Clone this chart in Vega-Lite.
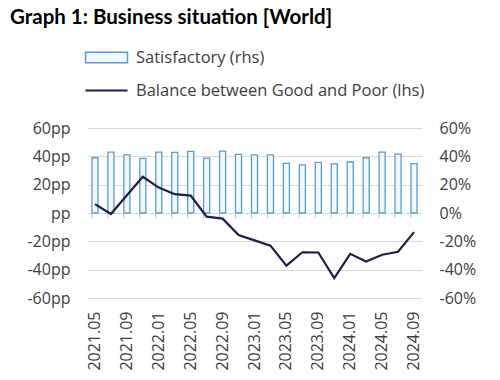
{
  "$schema": "https://vega.github.io/schema/vega-lite/v6.json",
  "autosize": {"type": "none"},
  "width": 335,
  "height": 170,
  "padding": {"left": 87, "top": 128, "right": 78, "bottom": 82},
  "background": "white",
  "title": {"text": "Graph 1: Business situation [World]", "anchor": "start", "frame": "group", "dx": -77, "offset": 18, "font": "Lato", "fontSize": 20.5, "fontWeight": "bold", "color": "#000000"},
  "config": {
    "view": {"stroke": null},
    "axis": {"labelFont": "Open Sans", "labelFontSize": 16, "labelColor": "#404040", "domain": false, "ticks": false, "gridColor": "#D9D9D9", "gridWidth": 1, "title": null},
    "legend": {"labelFont": "Open Sans", "labelFontSize": 16.5, "labelColor": "#404040", "labelLimit": 400}
  },
  "data": {"values": [
    {"d": "2021.05", "sat": 39, "bal": 6.3},
    {"d": "2021.07", "sat": 43, "bal": -0.7},
    {"d": "2021.09", "sat": 41, "bal": 12.5},
    {"d": "2021.11", "sat": 38.6, "bal": 25.6},
    {"d": "2022.01", "sat": 43, "bal": 17.9},
    {"d": "2022.03", "sat": 42.8, "bal": 13.3},
    {"d": "2022.05", "sat": 43.5, "bal": 12.3},
    {"d": "2022.07", "sat": 38.8, "bal": -2.6},
    {"d": "2022.09", "sat": 43.7, "bal": -4},
    {"d": "2022.11", "sat": 41.4, "bal": -15.6},
    {"d": "2023.01", "sat": 41, "bal": -19.3},
    {"d": "2023.03", "sat": 41, "bal": -23},
    {"d": "2023.05", "sat": 35, "bal": -37.2},
    {"d": "2023.07", "sat": 34, "bal": -27.7},
    {"d": "2023.09", "sat": 35.8, "bal": -27.9},
    {"d": "2023.11", "sat": 34.7, "bal": -46},
    {"d": "2024.01", "sat": 36, "bal": -28.8},
    {"d": "2024.03", "sat": 39, "bal": -34.2},
    {"d": "2024.05", "sat": 43, "bal": -29.5},
    {"d": "2024.07", "sat": 41.6, "bal": -27.4},
    {"d": "2024.09", "sat": 34.9, "bal": -13.5}
  ]},
  "encoding": {
    "x": {"field": "d", "type": "ordinal", "sort": null,
      "scale": {"paddingInner": 0.62, "paddingOuter": 0.31},
      "axis": {"values": ["2021.05", "2021.09", "2022.01", "2022.05", "2022.09", "2023.01", "2023.05", "2023.09", "2024.01", "2024.05", "2024.09"], "labelAngle": -90, "labelPadding": 13}}
  },
  "layer": [
    {
      "mark": {"type": "bar", "fill": "#F3F7FC", "strokeWidth": 1.3},
      "encoding": {
        "y": {"field": "sat", "type": "quantitative", "scale": {"domain": [-60, 60]},
          "axis": {"orient": "right", "grid": false, "values": [-60, -40, -20, 0, 20, 40, 60], "labelExpr": "datum.value + '%'", "labelPadding": 17}},
        "stroke": {"datum": "Satisfactory (rhs)", "type": "nominal",
          "scale": {"range": ["#5B9BD5"]},
          "legend": {"title": null, "orient": "none", "legendX": 8, "legendY": -82, "symbolSize": 441, "labelOffset": 18, "padding": 0,
            "symbolType": "M-2,-0.5H2V0.5H-2Z", "symbolFillColor": "#F3F7FC", "symbolStrokeColor": "#5B9BD5", "symbolStrokeWidth": 1.5, "symbolOpacity": 1}}
      }
    },
    {
      "mark": {"type": "rule", "color": "#BFBFBF", "strokeWidth": 1},
      "encoding": {
        "x": {"field": "d", "type": "ordinal", "sort": null, "bandPosition": 0},
        "y": {"datum": 0, "type": "quantitative", "scale": {"domain": [-60, 60]}, "axis": null},
        "y2": {"datum": -3.5}
      }
    },
    {
      "mark": {"type": "line", "strokeWidth": 2.2},
      "encoding": {
        "y": {"field": "bal", "type": "quantitative", "scale": {"domain": [-60, 60]},
          "axis": {"orient": "left", "grid": true, "values": [-60, -40, -20, 0, 20, 40, 60], "labelExpr": "datum.value == 0 ? 'pp' : datum.value + 'pp'", "labelPadding": 17}},
        "stroke": {"datum": "Balance between Good and Poor (lhs)", "type": "nominal",
          "scale": {"range": ["#1C1F4A"]},
          "legend": {"title": null, "orient": "none", "legendX": 8, "legendY": -49, "symbolSize": 441, "labelOffset": 18, "padding": 0,
            "symbolType": "M-2,0H2", "symbolStrokeColor": "#1C1F4A", "symbolStrokeWidth": 2, "symbolOpacity": 1}}
      }
    }
  ],
  "resolve": {"scale": {"y": "independent", "stroke": "independent"}, "legend": {"stroke": "independent"}}
}
